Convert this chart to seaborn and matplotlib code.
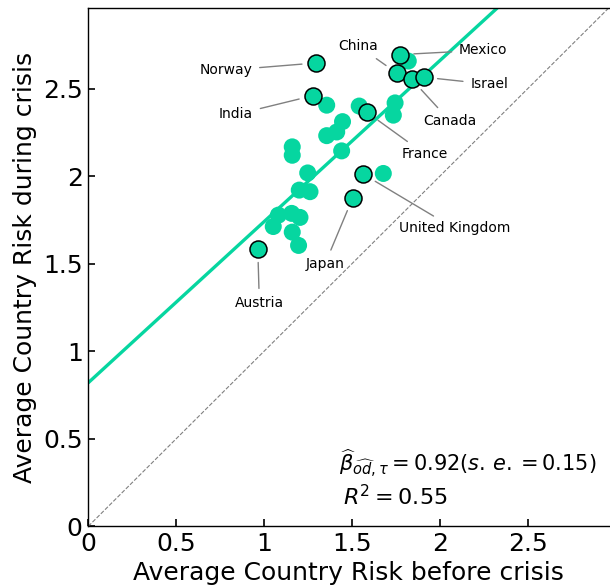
import matplotlib
matplotlib.use("Agg")
import matplotlib.pyplot as plt
import seaborn as sns
import pandas as pd
from matplotlib.ticker import FuncFormatter

# ---- data ----
other_x = [1.820, 1.356, 1.541, 1.745, 1.735, 1.446, 1.413, 1.356, 1.160, 1.160, 1.441,
           1.248, 1.678, 1.200, 1.261, 1.081, 1.157, 1.204, 1.052, 1.160, 1.196]
other_y = [2.657, 2.405, 2.400, 2.418, 2.348, 2.311, 2.252, 2.231, 2.167, 2.119, 2.144,
           2.018, 2.015, 1.920, 1.911, 1.777, 1.787, 1.764, 1.712, 1.680, 1.604]

countries = ["Norway", "Mexico", "China", "Canada", "Israel", "India", "France",
             "United Kingdom", "Japan", "Austria"]
country_x = [1.294, 1.773, 1.758, 1.840, 1.908, 1.276, 1.584, 1.564, 1.504, 0.964]
country_y = [2.646, 2.694, 2.586, 2.552, 2.565, 2.459, 2.365, 2.011, 1.876, 1.586]
label_x = [0.782, 2.247, 1.536, 2.057, 2.281, 0.840, 1.915, 2.082, 1.346, 0.973]
label_y = [2.604, 2.719, 2.743, 2.315, 2.525, 2.352, 2.125, 1.701, 1.497, 1.276]

intercept = 0.82
beta = 0.92
se = 0.15
r2 = 0.55

x_ticks = [0, 0.5, 1, 1.5, 2, 2.5]
y_ticks = [0, 0.5, 1, 1.5, 2, 2.5]
lim = 2.96

color = "#06D6A0"

sns.set_style("ticks")
plt.rcParams["font.family"] = ["DejaVu Sans"]
plt.rcParams["text.color"] = "black"
plt.rcParams["axes.labelcolor"] = "black"
plt.rcParams["xtick.color"] = "black"
plt.rcParams["ytick.color"] = "black"

fig = plt.figure(figsize=(6.10, 5.88), dpi=100)
ax = fig.add_axes([88.3 / 610, (588 - 526.3) / 588, 520.4 / 610, 518.3 / 588])

df_other = pd.DataFrame({"x": other_x, "y": other_y})
df_c = pd.DataFrame({"x": country_x, "y": country_y, "name": countries})

# 45 degree line
ax.axline((0, 0), slope=1, color="#808080", ls="--", lw=0.8, zorder=1)
# fit line
ax.axline((0, intercept), slope=beta, color=color, lw=2.4, zorder=2)

sns.scatterplot(data=df_other, x="x", y="y", ax=ax, color=color, s=150,
                edgecolor="none", linewidth=0, zorder=3)
sns.scatterplot(data=df_c, x="x", y="y", ax=ax, color=color, s=150,
                edgecolor="black", linewidth=1.1, zorder=4)

for name, px, py, tx, ty in zip(countries, country_x, country_y, label_x, label_y):
    ax.annotate(name, xy=(px, py), xytext=(tx, ty), fontsize=10,
                ha="center", va="center", color="black",
                arrowprops=dict(arrowstyle="-", color="#808080", lw=1.0,
                                shrinkA=3, shrinkB=10), zorder=5)

ax.text(0.482, 0.105,
        r"$\widehat{\beta}_{\widehat{od},\tau} = %.2f (s.\,e. = %.2f)$" % (beta, se),
        transform=ax.transAxes, fontsize=15, ha="left", va="baseline")
ax.text(0.489, 0.041, r"$R^2 = %.2f$" % r2,
        transform=ax.transAxes, fontsize=16, ha="left", va="baseline")

ax.set_xlim(0, lim)
ax.set_ylim(0, lim)
ax.set_xticks(x_ticks)
ax.set_yticks(y_ticks)
fmt = FuncFormatter(lambda v, p: ("%g" % v))
ax.xaxis.set_major_formatter(fmt)
ax.yaxis.set_major_formatter(fmt)
ax.tick_params(direction="in", length=5, width=1.2, labelsize=18, pad=4,
               top=False, right=False)
ax.set_xlabel("Average Country Risk before crisis", fontsize=18)
ax.set_ylabel("Average Country Risk during crisis", fontsize=18)
for s in ["left", "bottom", "top"]:
    ax.spines[s].set_visible(True)
    ax.spines[s].set_linewidth(1.0)
    ax.spines[s].set_color("black")
ax.spines["right"].set_visible(False)

fig.savefig("out.png", dpi=100)
